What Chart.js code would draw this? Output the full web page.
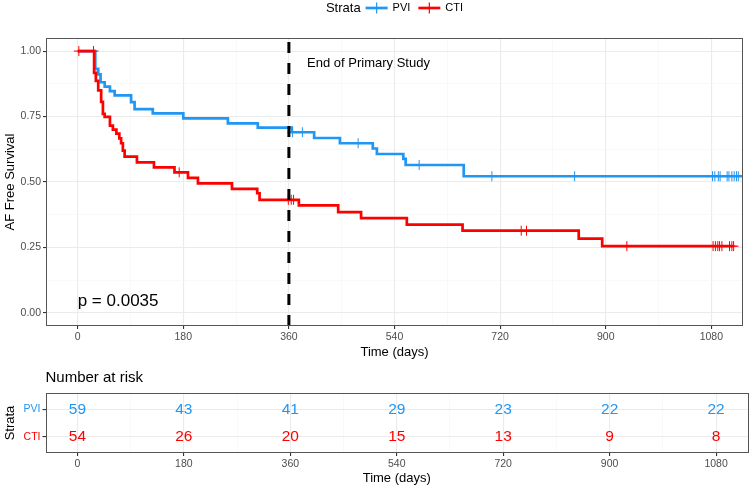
<!DOCTYPE html>
<html><head><meta charset="utf-8">
<script src="https://cdn.jsdelivr.net/npm/chart.js@4.4.0/dist/chart.umd.min.js"></script>
<style>
html,body{margin:0;padding:0;background:#fff;}
#wrap{position:relative;width:749px;height:486px;overflow:hidden;}
#c1{position:absolute;left:0;top:0;}
#c2{position:absolute;left:0;top:366px;}
</style></head><body>
<div id="wrap">
<canvas id="c1" width="749" height="366"></canvas>
<canvas id="c2" width="749" height="120"></canvas>
</div>
<script>
// ---------- data ----------
const strata = ['PVI', 'CTI'];
const pviTime = [0, 30, 35, 39, 46, 55, 63, 91, 97, 128, 180, 256, 307, 365, 403, 447, 503, 510, 555, 559, 658, 1134];
const pviSurv = [1.0, 0.932, 0.911, 0.881, 0.864, 0.847, 0.831, 0.805, 0.778, 0.762, 0.743, 0.724, 0.708, 0.690, 0.668, 0.648, 0.628, 0.607, 0.588, 0.565, 0.522, 0.522];
const pviCensorTime = [366, 383, 478, 582, 706, 847, 1082, 1086, 1092, 1095, 1107, 1110, 1115, 1119, 1123, 1126];
const pviCensorSurv = [0.690, 0.690, 0.648, 0.565, 0.522, 0.522, 0.522, 0.522, 0.522, 0.522, 0.522, 0.522, 0.522, 0.522, 0.522, 0.522];

const ctiTime = [0, 28, 31, 35, 40, 43, 46, 55, 60, 66, 71, 74, 77, 80, 101, 130, 165, 188, 205, 263, 306, 310, 377, 444, 483, 561, 656, 854, 894, 1118];
const ctiSurv = [1.0, 0.917, 0.886, 0.850, 0.806, 0.760, 0.749, 0.715, 0.700, 0.685, 0.667, 0.648, 0.620, 0.597, 0.575, 0.556, 0.537, 0.516, 0.495, 0.474, 0.457, 0.432, 0.411, 0.385, 0.362, 0.337, 0.314, 0.284, 0.255, 0.255];
const ctiCensorTime = [2, 27, 173, 359, 364, 368, 756, 765, 936, 1083, 1087, 1091, 1094, 1098, 1111, 1115, 1118];
const ctiCensorSurv = [1.0, 1.0, 0.537, 0.432, 0.432, 0.432, 0.314, 0.314, 0.255, 0.255, 0.255, 0.255, 0.255, 0.255, 0.255, 0.255, 0.255];

const endOfStudyDay = 360;
const xMajorTicks = [0, 180, 360, 540, 720, 900, 1080];
const xMinorTicks = [90, 270, 450, 630, 810, 990];
const yMajorTicks = [0, 0.25, 0.5, 0.75, 1.0];
const yMinorTicks = [0.125, 0.375, 0.625, 0.875];
const yTickLabels = ['0.00', '0.25', '0.50', '0.75', '1.00'];

const riskTimes = [0, 180, 360, 540, 720, 900, 1080];
const riskPVI = [59, 43, 41, 29, 23, 22, 22];
const riskCTI = [54, 26, 20, 15, 13, 9, 8];

const pText = 'p = 0.0035';
const pPos = {x: 0, y: 0.045};
const endText = 'End of Primary Study';
const endPos = {x: 391, y: 0.954};

// ---------- style ----------
const FONT = "'Liberation Sans', Arial, Helvetica, sans-serif";
const BLUE = '#2196F3';
const RED = '#FF0000';
const colors = {PVI: BLUE, CTI: RED};
const GRID_MAJOR = '#EBEBEB', GRID_MINOR = '#F5F5F5';
const TICK_TXT = '#4D4D4D';
const BORDER = '#555555';

const pts = (xs, ys) => xs.map((x, i) => ({x, y: ys[i]}));
const isMajorX = v => xMajorTicks.includes(v);
const isMajorY = v => yMajorTicks.some(t => Math.abs(t - v) < 1e-9);

function xScale(extra) {
  return Object.assign({
    type: 'linear', min: -54, max: 1134,
    afterBuildTicks: s => { s.ticks = xMajorTicks.concat(xMinorTicks).sort((a,b)=>a-b).map(v => ({value: v})); },
    ticks: {
      autoSkip: false, maxRotation: 0, padding: 2,
      color: TICK_TXT, font: {family: FONT, size: 10.5},
      callback: v => isMajorX(v) ? String(v) : ''
    },
    grid: {
      color: c => isMajorX(c.tick.value) ? GRID_MAJOR : GRID_MINOR,
      lineWidth: c => isMajorX(c.tick.value) ? 1.1 : 0.6,
      tickColor: c => isMajorX(c.tick.value) ? '#333333' : 'rgba(0,0,0,0)',
      tickLength: 3, drawTicks: true
    },
    border: {display: false},
    title: {display: true, text: 'Time (days)', color: '#000', font: {family: FONT, size: 13}, padding: {top: 0, bottom: 6}}
  }, extra || {});
}

const borderPlugin = {
  id: 'panelBorder',
  afterDatasetsDraw(chart) {
    const {ctx, chartArea: a} = chart;
    ctx.save();
    ctx.strokeStyle = BORDER; ctx.lineWidth = 1;
    ctx.strokeRect(Math.round(a.left) + 0.5, Math.round(a.top) + 0.5, Math.round(a.right - a.left) - 1, Math.round(a.bottom - a.top) - 1);
    ctx.restore();
  }
};

function drawKey(ctx, cx, cy, color) {
  ctx.save();
  ctx.strokeStyle = color;
  ctx.lineWidth = 2.7;
  ctx.beginPath(); ctx.moveTo(cx - 11, cy); ctx.lineTo(cx + 11, cy); ctx.stroke();
  ctx.lineWidth = 1.2;
  ctx.beginPath(); ctx.moveTo(cx, cy - 5.5); ctx.lineTo(cx, cy + 5.5); ctx.stroke();
  ctx.restore();
}

const annotPlugin = {
  id: 'annot',
  afterDatasetsDraw(chart) {
    const {ctx, scales: {x, y}, chartArea: a} = chart;
    ctx.save();
    ctx.fillStyle = '#000';
    ctx.textBaseline = 'middle';
    ctx.textAlign = 'left';
    ctx.font = `13px ${FONT}`;
    ctx.fillText(endText, x.getPixelForValue(endPos.x), y.getPixelForValue(endPos.y));
    ctx.font = `17px ${FONT}`;
    ctx.fillText(pText, x.getPixelForValue(pPos.x), y.getPixelForValue(pPos.y));
    // legend
    const cy = 8;
    ctx.font = `13px ${FONT}`;
    const wTitle = ctx.measureText('Strata').width;
    ctx.font = `11px ${FONT}`;
    const wLab = strata.map(s => ctx.measureText(s).width);
    const keyW = 22, g1 = 5, g2 = 8;
    const total = wTitle + g1 + keyW + g1 + wLab[0] + g2 + keyW + g1 + wLab[1];
    let cx = (a.left + a.right) / 2 - total / 2;
    ctx.font = `13px ${FONT}`; ctx.fillStyle = '#000';
    ctx.fillText('Strata', cx, cy); cx += wTitle + g1;
    strata.forEach((s, i) => {
      drawKey(ctx, cx + keyW / 2, cy, colors[s]); cx += keyW + g1;
      ctx.font = `11px ${FONT}`; ctx.fillStyle = '#000';
      ctx.fillText(s, cx, cy); cx += wLab[i] + g2;
    });
    ctx.restore();
  }
};

new Chart(document.getElementById('c1'), {
  type: 'line',
  data: {
    datasets: [
      {label: 'End of Primary Study', data: [{x: endOfStudyDay, y: -0.05}, {x: endOfStudyDay, y: 1.05}],
       borderColor: '#000', borderWidth: 3, borderDash: [11, 10], pointRadius: 0, order: 0},
      {label: 'PVI censored', data: pts(pviCensorTime, pviCensorSurv), showLine: false,
       pointStyle: 'cross', pointRadius: 5, pointBorderWidth: 1, borderColor: BLUE, backgroundColor: BLUE, order: 1},
      {label: 'CTI censored', data: pts(ctiCensorTime, ctiCensorSurv), showLine: false,
       pointStyle: 'cross', pointRadius: 5, pointBorderWidth: 1, borderColor: RED, backgroundColor: RED, order: 1},
      {label: 'CTI', data: pts(ctiTime, ctiSurv), stepped: 'before', borderColor: RED, borderWidth: 2.7, pointRadius: 0, order: 2},
      {label: 'PVI', data: pts(pviTime, pviSurv), stepped: 'before', borderColor: BLUE, borderWidth: 2.7, pointRadius: 0, order: 3}
    ]
  },
  options: {
    responsive: false, animation: false, devicePixelRatio: 1,
    layout: {padding: {top: 38, right: 1, left: 0, bottom: 0}},
    plugins: {legend: {display: false}, tooltip: {enabled: false}},
    scales: {
      x: xScale({afterFit: s => { s.height = 40; }}),
      y: {
        type: 'linear', min: -0.05, max: 1.05,
        afterBuildTicks: s => { s.ticks = yMajorTicks.concat(yMinorTicks).sort((a,b)=>a-b).map(v => ({value: v})); },
        afterFit: s => { s.width = 46; },
        ticks: {
          autoSkip: false, padding: 2, color: TICK_TXT, font: {family: FONT, size: 10.5},
          callback: v => { const i = yMajorTicks.findIndex(t => Math.abs(t - v) < 1e-9); return i >= 0 ? yTickLabels[i] : ''; }
        },
        grid: {
          color: c => isMajorY(c.tick.value) ? GRID_MAJOR : GRID_MINOR,
          lineWidth: c => isMajorY(c.tick.value) ? 1.1 : 0.6,
          tickColor: c => isMajorY(c.tick.value) ? '#333333' : 'rgba(0,0,0,0)',
          tickLength: 3
        },
        border: {display: false},
        title: {display: true, text: 'AF Free Survival', color: '#000', font: {family: FONT, size: 13}, padding: {top: 3, bottom: 0}}
      }
    }
  },
  plugins: [borderPlugin, annotPlugin]
});

// ---------- risk table ----------
const riskRows = {PVI: 2, CTI: 1};
const riskPlugin = {
  id: 'riskText',
  afterDatasetsDraw(chart) {
    const {ctx, scales: {x, y}, chartArea: a} = chart;
    ctx.save();
    ctx.textBaseline = 'middle';
    ctx.textAlign = 'left';
    ctx.fillStyle = '#000';
    ctx.font = `15px ${FONT}`;
    ctx.fillText('Number at risk', a.left, 12);
    ctx.textAlign = 'center';
    ctx.font = `15.5px ${FONT}`;
    riskTimes.forEach((t, i) => {
      ctx.fillStyle = BLUE;
      ctx.fillText(String(riskPVI[i]), x.getPixelForValue(t), y.getPixelForValue(riskRows.PVI));
      ctx.fillStyle = RED;
      ctx.fillText(String(riskCTI[i]), x.getPixelForValue(t), y.getPixelForValue(riskRows.CTI));
    });
    ctx.restore();
  }
};

new Chart(document.getElementById('c2'), {
  type: 'line',
  data: {datasets: [{label: 'risk', data: [], pointRadius: 0}]},
  options: {
    responsive: false, animation: false, devicePixelRatio: 1,
    layout: {padding: {top: 27, right: 1, left: 0, bottom: 0}},
    plugins: {legend: {display: false}, tooltip: {enabled: false}},
    scales: {
      x: xScale({afterFit: s => { s.height = 33; }, title: {display: true, text: 'Time (days)', color: '#000', font: {family: FONT, size: 13}, padding: {top: 0, bottom: 0}}}),
      y: {
        type: 'linear', min: 0.4, max: 2.6,
        afterBuildTicks: s => { s.ticks = [1, 2].map(v => ({value: v})); },
        afterFit: s => { s.width = 45.5; },
        ticks: {
          autoSkip: false, padding: 2, font: {family: FONT, size: 10.5},
          color: c => c.tick.value === riskRows.PVI ? BLUE : RED,
          callback: v => v === riskRows.PVI ? 'PVI' : 'CTI'
        },
        grid: {color: GRID_MAJOR, lineWidth: 1.1, tickColor: '#333333', tickLength: 3},
        border: {display: false},
        title: {display: true, text: 'Strata', color: '#000', font: {family: FONT, size: 13}, padding: {top: 3, bottom: 0}}
      }
    }
  },
  plugins: [borderPlugin, riskPlugin]
});
</script>
</body></html>
